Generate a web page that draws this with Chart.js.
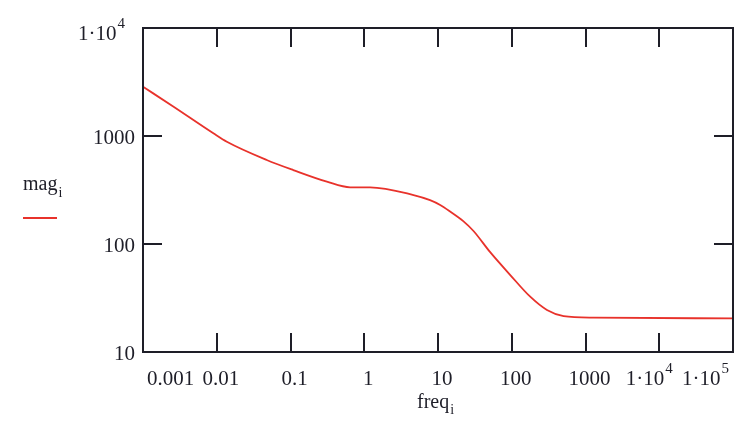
<!DOCTYPE html>
<html>
<head>
<meta charset="utf-8">
<script src="https://cdn.jsdelivr.net/npm/chart.js@4/dist/chart.umd.min.js"></script>
<style>
  html, body { margin: 0; padding: 0; background: #fff; }
  #wrap { width: 734px; height: 433px; }
</style>
</head>
<body>
<div id="wrap"><canvas id="chart" width="734" height="433"></canvas></div>
<script>
// values (log-log)
const freq = [0.001, 0.0026, 0.009, 0.0137, 0.0476, 0.109, 0.311, 0.644, 1.2, 4.66, 7.8, 10.7, 14.6, 22, 30.3, 51, 95.5, 178, 300, 505, 1290, 100000];
const mag = [2860, 1866, 1059, 885, 600, 484, 378, 335, 335, 284, 255, 230, 200, 163, 132, 84, 51.6, 32.5, 24.5, 21.5, 20.8, 20.5];

// tick labels: [base, superscript]
const xTicks = [0.001, 0.01, 0.1, 1, 10, 100, 1000, 10000, 100000];
const xTickLabels = [["0.001", ""], ["0.01", ""], ["0.1", ""], ["1", ""], ["10", ""], ["100", ""], ["1000", ""], ["1\u00b710", "4"], ["1\u00b710", "5"]];
const yTicks = [10, 100, 1000, 10000];
const yTickLabels = [["10", ""], ["100", ""], ["1000", ""], ["1\u00b710", "4"]];

const FONT = "Liberation Serif";
const INK = "#1e1e28";
const RED = "#e8322b";

function textWithSup(ctx, base, sup) {
  ctx.font = "21px '" + FONT + "'";
  const w1 = ctx.measureText(base).width;
  ctx.font = "15px '" + FONT + "'";
  const w2 = sup ? ctx.measureText(sup).width + 1 : 0;
  return { w1, w2, total: w1 + w2 };
}

function drawLabel(ctx, base, sup, left, baseline) {
  const m = textWithSup(ctx, base, sup);
  ctx.textAlign = "left";
  ctx.textBaseline = "alphabetic";
  ctx.font = "21px '" + FONT + "'";
  ctx.fillText(base, left, baseline);
  if (sup) {
    ctx.font = "15px '" + FONT + "'";
    ctx.fillText(sup, left + m.w1 + 1, baseline - 12);
  }
}

const frame = {
  id: "frame",
  afterDraw(chart) {
    const ctx = chart.ctx;
    const a = chart.chartArea;
    const xs = chart.scales.x, ys = chart.scales.y;
    ctx.save();
    ctx.strokeStyle = INK;
    ctx.lineWidth = 2;
    ctx.strokeRect(a.left, a.top, a.right - a.left, a.bottom - a.top);

    // inward ticks
    ctx.beginPath();
    xTicks.forEach((v) => {
      const px = Math.round(xs.getPixelForValue(v));
      if (px <= a.left + 2 || px >= a.right - 2) return;
      ctx.moveTo(px, a.bottom); ctx.lineTo(px, a.bottom - 19);
      ctx.moveTo(px, a.top); ctx.lineTo(px, a.top + 19);
    });
    yTicks.forEach((v) => {
      const py = Math.round(ys.getPixelForValue(v));
      if (py <= a.top + 2 || py >= a.bottom - 2) return;
      ctx.moveTo(a.left, py); ctx.lineTo(a.left + 19, py);
      ctx.moveTo(a.right, py); ctx.lineTo(a.right - 19, py);
    });
    ctx.stroke();

    // tick labels
    ctx.fillStyle = INK;
    xTicks.forEach((v, i) => {
      const [base, sup] = xTickLabels[i];
      const px = xs.getPixelForValue(v) + (sup ? -10 : 4);
      const m = textWithSup(ctx, base, sup);
      let left = px - m.total / 2;
      if (left < a.left + 4) left = a.left + 4;
      if (left + m.total > a.right - 4) left = a.right - 4 - m.total;
      drawLabel(ctx, base, sup, left, 385);
    });
    yTicks.forEach((v, i) => {
      const py = ys.getPixelForValue(v);
      const [base, sup] = yTickLabels[i];
      const m = textWithSup(ctx, base, sup);
      drawLabel(ctx, base, sup, a.left - (sup ? 18 : 8) - m.total, py + (sup ? 12 : 8));
    });

    // axis title
    ctx.font = "20px '" + FONT + "'";
    ctx.fillText("freq", 417, 408);
    const fw = ctx.measureText("freq").width;
    ctx.font = "14px '" + FONT + "'";
    ctx.fillText("i", 417 + fw + 1, 414);

    // legend
    ctx.font = "20px '" + FONT + "'";
    ctx.fillText("mag", 23, 190);
    const mw = ctx.measureText("mag").width;
    ctx.font = "14px '" + FONT + "'";
    ctx.fillText("i", 23 + mw + 1, 197);
    ctx.strokeStyle = RED;
    ctx.lineWidth = 2;
    ctx.beginPath();
    ctx.moveTo(23, 218); ctx.lineTo(57, 218);
    ctx.stroke();
    ctx.restore();
  },
};

new Chart(document.getElementById("chart"), {
  type: "line",
  data: {
    datasets: [
      {
        label: "mag",
        data: freq.map((f, i) => ({ x: f, y: mag[i] })),
        borderColor: RED,
        borderWidth: 1.8,
        pointRadius: 0,
        cubicInterpolationMode: "monotone",
        fill: false,
      },
    ],
  },
  options: {
    responsive: false,
    animation: false,
    layout: { padding: { left: 143, right: 1, top: 28, bottom: 81 } },
    scales: {
      x: { type: "logarithmic", min: 0.001, max: 100000, display: false },
      y: { type: "logarithmic", min: 10, max: 10000, display: false },
    },
    plugins: { legend: { display: false }, tooltip: { enabled: false } },
  },
  plugins: [frame],
});
</script>
</body>
</html>
